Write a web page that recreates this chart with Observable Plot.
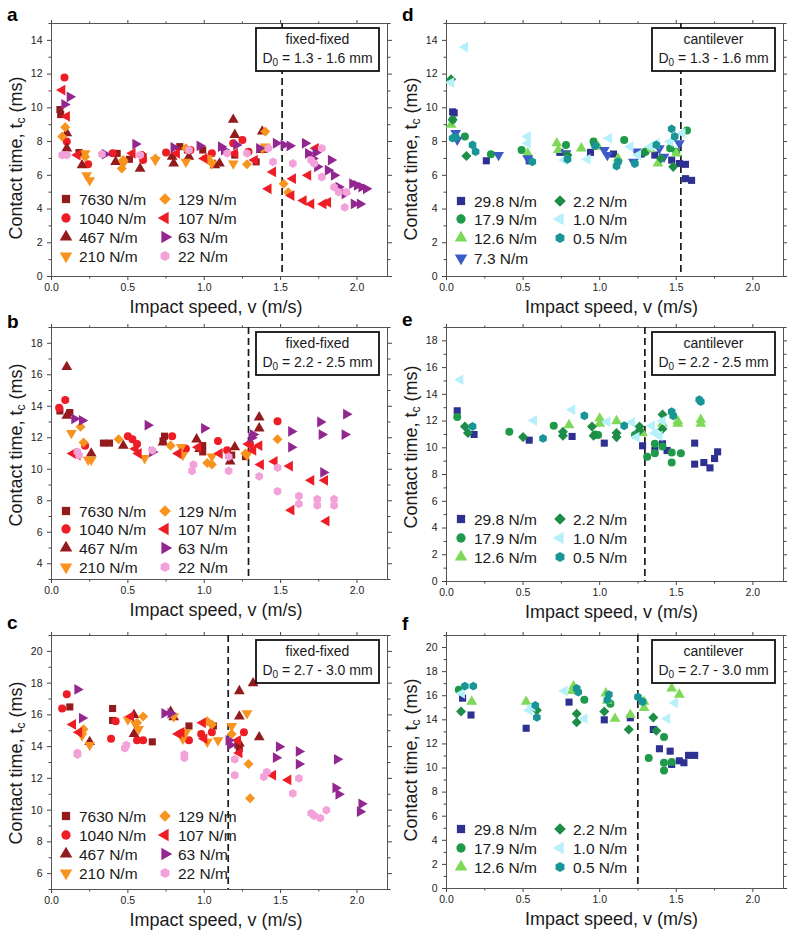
<!DOCTYPE html>
<html><head><meta charset="utf-8">
<script src="https://cdn.jsdelivr.net/npm/d3@7"></script>
<script src="https://cdn.jsdelivr.net/npm/@observablehq/plot@0.6"></script>
<style>
body{margin:0;background:#fff;}
#wrap{position:relative;width:787px;height:937px;overflow:hidden;background:#fff;}
#wrap svg{position:absolute;overflow:visible;}
</style></head><body><div id="wrap"></div>
<script>
// ---------- labels ----------
const ffLabels = ["7630 N/m","1040 N/m","467 N/m","210 N/m","129 N/m","107 N/m","63 N/m","22 N/m"];
const cantLabels = ["29.8 N/m","17.9 N/m","12.6 N/m","7.3 N/m","2.2 N/m","1.0 N/m","0.5 N/m"];
const xTicks = [0, 0.5, 1.0, 1.5, 2.0];
const xMinor = [0.25, 0.75, 1.25, 1.75];
const dashX = [1.51, 1.29, 1.157, 1.53, 1.295, 1.249];

// ---------- panel a: fixed-fixed, D0 = 1.3 - 1.6 mm ----------
const a7630 = [[0.055,9.9],[0.06,9.6],[0.18,7.35],[0.43,7.3],[0.51,6.95],[0.6,7.1],[0.84,7.7],[0.89,7.5],[0.99,7.5],[1.2,7.2],[1.34,6.8]];
const a1040 = [[0.085,11.8],[0.1,8.0],[0.24,6.65],[0.4,7.3],[0.59,7.2],[0.6,6.9],[0.75,7.35],[0.91,7.5],[1.05,7.3],[1.19,7.9],[1.25,8.1],[1.29,7.4]];
const a467 = [[0.1,8.5],[0.1,7.6],[0.2,6.6],[0.42,6.8],[0.58,6.4],[0.79,7.1],[0.8,6.7],[0.9,7.1],[1.07,6.6],[1.1,6.7],[1.19,9.3],[1.2,8.4],[1.38,7.5],[1.38,8.6]];
const a210 = [[0.22,7.3],[0.23,6.0],[0.25,5.7],[0.47,6.7],[0.68,6.9],[0.88,6.8],[1.02,7.0],[1.05,6.7],[1.19,6.7],[1.38,7.6],[1.4,7.7]];
const a129 = [[0.07,8.3],[0.09,8.85],[0.22,7.1],[0.46,6.4],[0.47,6.9],[0.68,7.0],[0.88,7.6],[1.03,6.9],[1.28,6.65],[1.4,8.6],[1.52,5.5],[1.55,5.0]];
const a107 = [[0.07,11.05],[0.1,9.5],[0.17,7.2],[0.53,7.3],[0.82,7.3],[1.0,7.0],[1.2,7.3],[1.33,6.9],[1.42,5.2],[1.45,6.2],[1.57,4.8],[1.58,5.8],[1.65,4.5],[1.68,6.0],[1.7,4.3],[1.73,7.6],[1.78,4.3],[1.81,4.4]];
const a63 = [[0.085,10.2],[0.12,10.65],[0.35,7.25],[0.55,7.85],[0.8,7.65],[0.97,7.75],[1.11,7.7],[1.13,7.5],[1.21,7.8],[1.36,7.6],[1.47,7.9],[1.52,7.8],[1.56,7.75],[1.66,7.9],[1.68,7.3],[1.71,7.0],[1.73,7.35],[1.74,6.5],[1.81,6.3],[1.83,6.9],[1.85,6.0],[1.88,5.3],[1.92,4.9],[1.97,5.5],[1.98,4.3],[2.0,5.4],[2.02,4.3],[2.03,5.3],[2.06,5.2]];
const a22 = [[0.07,7.2],[0.1,7.2],[0.33,7.25],[0.58,7.2],[0.9,7.5],[1.15,7.3],[1.28,7.3],[1.42,7.6],[1.45,6.8],[1.58,6.7],[1.7,6.9],[1.72,6.7],[1.77,7.6],[1.77,5.9],[1.85,5.3],[1.88,5.0],[1.93,5.0],[1.92,4.1]];

// ---------- panel b: fixed-fixed, D0 = 2.2 - 2.5 mm ----------
const b7630 = [[0.055,13.7],[0.12,13.6],[0.34,11.66],[0.38,11.66],[0.73,11.8],[0.74,12.1],[0.99,11.5],[0.99,11.1],[1.18,10.9],[1.27,10.8]];
const b1040 = [[0.05,13.9],[0.09,14.4],[0.22,11.5],[0.5,12.1],[0.53,11.9],[0.56,11.6],[0.79,12.1],[0.88,11.3],[1.09,11.8],[1.15,11.2],[1.3,11.6],[1.48,13.05]];
const b467 = [[0.1,16.5],[0.1,13.4],[0.26,11.0],[0.47,11.5],[0.73,11.7],[0.95,11.9],[0.97,11.3],[1.17,10.5],[1.2,11.4],[1.36,13.3],[1.36,12.6]];
const b210 = [[0.13,12.3],[0.24,10.6],[0.26,10.6],[0.61,10.7],[0.85,11.4],[0.86,10.9],[1.05,10.8],[1.28,10.9]];
const b129 = [[0.19,12.7],[0.21,11.7],[0.44,11.9],[0.78,11.5],[1.02,10.4],[1.05,10.3],[1.27,11.0],[1.48,11.9]];
const b107 = [[0.14,11.0],[0.17,10.9],[0.55,11.3],[0.57,11.0],[0.83,11.0],[0.96,11.4],[1.1,11.0],[1.29,11.6],[1.32,11.2],[1.36,11.5],[1.37,10.3],[1.46,10.5],[1.56,10.2],[1.57,7.4],[1.7,9.3],[1.79,9.3],[1.8,6.7]];
const b63 = [[0.15,13.2],[0.2,13.1],[0.63,12.8],[0.66,11.1],[1.0,12.6],[1.31,12.0],[1.32,12.2],[1.57,12.4],[1.57,11.4],[1.76,13.0],[1.77,12.2],[1.78,9.8],[1.93,13.5],[1.92,12.2]];
const b22 = [[0.17,11.1],[0.18,10.9],[0.66,11.2],[0.92,9.9],[0.93,10.3],[1.16,9.9],[1.16,10.8],[1.36,9.55],[1.48,10.1],[1.48,8.6],[1.62,8.3],[1.62,7.8],[1.74,8.1],[1.74,7.7],[1.85,8.1],[1.85,7.7]];

// ---------- panel c: fixed-fixed, D0 = 2.7 - 3.0 mm ----------
const c7630 = [[0.12,16.5],[0.4,16.4],[0.4,15.65],[0.66,14.3],[0.9,15.3],[1.06,15.3],[1.22,14.1],[1.23,13.9]];
const c1040 = [[0.07,16.4],[0.1,17.3],[0.39,14.5],[0.42,15.6],[0.56,14.4],[0.6,14.4],[0.9,14.4],[0.98,14.8],[1.05,14.9],[1.26,14.9]];
const c467 = [[0.25,14.3],[0.54,14.8],[0.54,16.0],[0.78,16.2],[0.8,15.85],[1.23,17.5],[1.32,18.0],[1.23,15.9],[1.36,14.6],[1.23,14.2]];
const c210 = [[0.2,14.7],[0.25,14.1],[0.5,15.7],[0.55,15.4],[0.57,15.1],[0.8,15.9],[0.86,14.5],[0.88,14.9],[1.02,14.3],[1.09,14.4],[1.18,15.3],[1.28,16.1]];
const c129 = [[0.21,15.1],[0.56,15.5],[0.6,15.9],[1.02,15.6],[1.05,15.4],[1.18,14.8],[1.29,12.9],[1.3,10.75]];
const c107 = [[0.14,15.4],[0.18,14.9],[0.52,15.9],[0.83,14.8],[0.85,14.9],[0.99,15.5],[1.0,14.5],[1.22,14.4],[1.23,13.6],[1.45,12.2],[1.55,11.9]];
const c63 = [[0.17,17.6],[0.2,15.8],[0.74,16.1],[0.78,16.1],[1.16,14.4],[1.17,14.1],[1.47,13.3],[1.49,14.0],[1.62,13.7],[1.62,12.9],[1.86,11.4],[1.87,13.2],[1.88,11.0],[2.02,9.9],[2.03,10.4]];
const c22 = [[0.17,13.6],[0.17,13.5],[0.48,13.9],[0.49,14.1],[0.87,13.5],[0.87,13.3],[1.2,13.2],[1.2,12.2],[1.39,12.1],[1.41,12.4],[1.58,11.05],[1.62,12.0],[1.7,9.8],[1.72,9.65],[1.76,9.5],[1.8,10.0]];

// ---------- panel d: cantilever, D0 = 1.3 - 1.6 mm ----------
const d29_8 = [[0.04,9.76],[0.05,9.7],[0.26,6.86],[0.54,6.86],[0.74,7.36],[0.94,7.36],[1.09,7.26],[1.27,7.26],[1.36,7.2],[1.47,6.9],[1.52,6.7],[1.56,6.65],[1.56,5.8],[1.6,5.7]];
const d17_9 = [[0.04,9.3],[0.12,8.3],[0.29,7.25],[0.49,7.5],[0.78,7.8],[0.96,8.0],[1.16,8.1],[1.3,7.4],[1.46,7.6],[1.5,7.4],[1.57,8.65]];
const d12_6 = [[0.03,9.0],[0.53,7.3],[0.72,7.9],[0.73,7.5],[0.88,7.6],[0.99,7.7],[1.12,7.0],[1.33,7.55],[1.38,6.7],[1.5,7.3]];
const d7_3 = [[0.06,8.5],[0.07,8.1],[0.34,7.2],[0.53,7.0],[0.78,7.3],[1.03,7.5],[1.05,7.2],[1.22,6.8],[1.24,7.4],[1.39,7.6],[1.42,7.1],[1.52,7.9]];
const d2_2 = [[0.03,11.7],[0.04,9.3],[0.13,7.15],[0.79,7.2],[0.97,7.8],[1.29,7.35],[1.4,7.0],[1.48,6.5]];
const d1_0 = [[0.03,11.5],[0.12,13.6],[0.53,8.3],[0.53,7.9],[0.77,6.9],[0.92,6.95],[1.06,8.2],[1.2,7.7],[1.25,7.2],[1.33,7.7],[1.37,7.9],[1.46,8.0],[1.54,8.5]];
const d0_5 = [[0.04,8.2],[0.06,8.25],[0.17,7.8],[0.19,7.4],[0.56,6.8],[0.79,6.95],[0.97,7.75],[1.11,6.55],[1.12,6.8],[1.23,6.7],[1.37,7.8],[1.47,8.75],[1.49,8.3]];

// ---------- panel e: cantilever, D0 = 2.2 - 2.5 mm ----------
const e29_8 = [[0.07,12.77],[0.18,11.0],[0.54,10.57],[0.82,10.85],[1.03,10.35],[1.28,10.15],[1.36,9.8],[1.41,10.3],[1.44,9.8],[1.62,10.35],[1.62,8.78],[1.68,8.9],[1.72,8.5],[1.75,9.2],[1.77,9.7]];
const e17_9 = [[0.07,12.3],[0.41,11.2],[0.7,11.65],[0.97,11.0],[0.99,10.95],[1.23,10.95],[1.31,9.33],[1.36,9.6],[1.36,10.3],[1.41,10.1],[1.47,9.65],[1.47,8.9],[1.53,9.6]];
const e12_6 = [[0.8,11.7],[1.0,12.2],[1.0,11.8],[1.11,12.0],[1.28,11.1],[1.41,11.8],[1.51,12.0],[1.51,11.8],[1.66,12.1],[1.66,11.8]];
const e2_2 = [[0.12,11.6],[0.14,11.1],[0.5,10.8],[0.76,11.2],[0.76,10.9],[0.95,11.6],[0.96,10.9],[1.11,11.1],[1.11,10.8],[1.26,11.6],[1.26,11.3],[1.41,12.5],[1.41,11.4]];
const e1_0 = [[0.09,15.1],[0.57,12.05],[0.82,12.85],[1.05,11.95],[1.21,11.9],[1.24,10.8],[1.34,11.65],[1.36,11.1],[1.39,10.9],[1.41,12.0]];
const e0_5 = [[0.17,11.6],[0.63,10.7],[0.9,12.4],[1.16,11.65],[1.47,12.7],[1.48,12.4],[1.65,13.6],[1.66,13.45]];

// ---------- panel f: cantilever, D0 = 2.7 - 3.0 mm ----------
const f29_8 = [[0.105,15.8],[0.16,14.4],[0.52,13.3],[0.8,15.47],[1.03,14.0],[1.2,14.17],[1.35,13.2],[1.39,11.6],[1.46,11.4],[1.47,10.3],[1.52,10.6],[1.55,10.44],[1.58,11.05],[1.62,11.05]];
const f17_9 = [[0.08,16.5],[0.9,15.66],[1.07,15.33],[1.32,10.83],[1.42,12.57],[1.42,10.44],[1.42,9.8],[1.47,10.5]];
const f12_6 = [[0.165,15.5],[0.52,15.5],[0.82,16.4],[0.83,16.8],[1.04,16.2],[1.05,15.6],[1.1,14.1],[1.2,14.4],[1.29,15.5],[1.29,15.0],[1.47,16.6],[1.52,16.1]];
const f2_2 = [[0.095,14.7],[0.59,14.8],[0.85,14.5],[0.85,13.8],[1.03,14.7],[1.19,13.2],[1.35,14.2],[1.37,13.1]];
const f1_0 = [[0.1,16.2],[0.54,14.8],[0.56,15.1],[0.77,16.4],[0.9,14.1],[1.44,14.1],[1.49,15.4]];
const f0_5 = [[0.12,16.8],[0.175,16.8],[0.58,15.2],[0.59,14.2],[0.85,16.6],[0.86,16.3],[1.05,15.66],[1.06,16.1],[1.25,15.9],[1.28,15.5]];

// ---------- symbols & colours ----------
const S3 = Math.sqrt(3);
const triDown = {draw(c, s){const y = -Math.sqrt(s/(S3*3)); c.moveTo(0,-y*2); c.lineTo(-S3*y,y); c.lineTo(S3*y,y); c.closePath();}};
const triLeft = {draw(c, s){const y = -Math.sqrt(s/(S3*3)); c.moveTo(y*2,0); c.lineTo(-y,-S3*y); c.lineTo(-y,S3*y); c.closePath();}};
const triRight = {draw(c, s){const y = -Math.sqrt(s/(S3*3)); c.moveTo(-y*2,0); c.lineTo(y,-S3*y); c.lineTo(y,S3*y); c.closePath();}};
const hexagon = {draw(c, s){const r = Math.sqrt(s/(1.5*S3)); for(let i=0;i<6;i++){const a=Math.PI/3*i-Math.PI/2; const x=r*Math.cos(a), y=r*Math.sin(a); if(i) c.lineTo(x,y); else c.moveTo(x,y);} c.closePath();}};
const diamond = {draw(c, s){const d = Math.sqrt(s/2); c.moveTo(0,-d); c.lineTo(d,0); c.lineTo(0,d); c.lineTo(-d,0); c.closePath();}};
const square = d3.symbolSquare, circle = d3.symbolCircle, triUp = d3.symbolTriangle;

const ffSymbols = [square, circle, triUp, triDown, diamond, triLeft, triRight, hexagon];
const ffColors = ["#931b1e","#ee1c25","#931b1e","#f7931e","#f7941d","#ee1c25","#92278f","#f2a1d9"];
const cantSymbols = [square, circle, triUp, triDown, diamond, triLeft, hexagon];
const cantColors = ["#2e3192","#1e9a4a","#7dd957","#3d5bc6","#1d8d48","#b5f0fb","#1a9597"];

const FONT = "'Liberation Sans', Arial, Helvetica, sans-serif";

function ff(datas){ return datas.map((d,i)=>({data:d, label:ffLabels[i], sym:ffSymbols[i], color:ffColors[i]})); }
function cant(datas, idx){ return datas.map((d,k)=>{const i = idx[k]; return {data:d, label:cantLabels[i], sym:cantSymbols[i], color:cantColors[i]};}); }

const panels = [
  {letter:"a", left:0, top:0, w:395, frame:[51,387,23,276], yDomain:[0,15], dash:dashX[0], letterY:21, ylabelY:158, kind:"fixed-fixed", range:" = 1.3 - 1.6 mm",
   series: ff([a7630,a1040,a467,a210,a129,a107,a63,a22]), nCol1:4, rows:[199,218,237,256]},
  {letter:"b", left:0, top:305, w:395, frame:[51,387,22,274], yDomain:[3,19], dash:dashX[1], letterY:23, ylabelY:140, kind:"fixed-fixed", range:" = 2.2 - 2.5 mm",
   series: ff([b7630,b1040,b467,b210,b129,b107,b63,b22]), nCol1:4, rows:[206,224,243,262]},
  {letter:"c", left:0, top:607, w:395, frame:[51,387,28,282], yDomain:[5,21], dash:dashX[2], letterY:22, ylabelY:156, kind:"fixed-fixed", range:" = 2.7 - 3.0 mm",
   series: ff([c7630,c1040,c467,c210,c129,c107,c63,c22]), nCol1:4, rows:[209,228,247,266]},
  {letter:"d", left:395, top:0, w:392, frame:[51,388,23,276], yDomain:[0,15], dash:dashX[3], letterY:21, ylabelY:159, kind:"cantilever", range:" = 1.3 - 1.6 mm",
   series: cant([d29_8,d17_9,d12_6,d7_3,d2_2,d1_0,d0_5],[0,1,2,3,4,5,6]), nCol1:4, rows:[201,219,238,258]},
  {letter:"e", left:395, top:305, w:392, frame:[51,388,22,276], yDomain:[0,19], dash:dashX[4], letterY:21, ylabelY:142, kind:"cantilever", range:" = 2.2 - 2.5 mm",
   series: cant([e29_8,e17_9,e12_6,e2_2,e1_0,e0_5],[0,1,2,4,5,6]), nCol1:3, rows:[214,233,252]},
  {letter:"f", left:395, top:607, w:392, frame:[51,388,28,281], yDomain:[0,21], dash:dashX[5], letterY:23, ylabelY:153, kind:"cantilever", range:" = 2.7 - 3.0 mm",
   series: cant([f29_8,f17_9,f12_6,f2_2,f1_0,f0_5],[0,1,2,4,5,6]), nCol1:3, rows:[222,241,260]}
];

function decor(p){
  return () => {
    const [L,R,T,B] = p.frame;
    const g = d3.create("svg:g").attr("font-family", FONT).attr("text-anchor","start");
    g.append("text").attr("x",7).attr("y",p.letterY).attr("text-anchor","start").attr("font-size",19).attr("font-weight","bold").attr("fill","#000").text(p.letter);
    const yl = g.append("text").attr("transform",`translate(22,${p.ylabelY}) rotate(-90)`).attr("text-anchor","middle").attr("font-size",18).attr("fill","#1a1a1a");
    yl.append("tspan").text("Contact time, t");
    yl.append("tspan").attr("font-size",12).attr("dy",3).text("c");
    yl.append("tspan").attr("dy",-3).text(" (ms)");
    g.append("text").attr("x",(L+R)/2-3).attr("y",B+37).attr("text-anchor","middle").attr("font-size",18).attr("fill","#1a1a1a").text("Impact speed, v (m/s)");
    // annotation box
    const bx = R-131, by = T+5;
    g.append("rect").attr("x",bx).attr("y",by).attr("width",123).attr("height",43).attr("fill","#fff").attr("stroke","#111").attr("stroke-width",1.8);
    g.append("text").attr("x",bx+61.5).attr("y",by+16).attr("text-anchor","middle").attr("font-size",14).attr("fill","#1a1a1a").text(p.kind);
    const t2 = g.append("text").attr("x",bx+61.5).attr("y",by+35).attr("text-anchor","middle").attr("font-size",14).attr("fill","#1a1a1a");
    t2.append("tspan").text("D");
    t2.append("tspan").attr("font-size",10).attr("dy",3).text("0");
    t2.append("tspan").attr("dy",-3).text(p.range);
    // legend
    p.series.forEach((s,i)=>{
      const col = i < p.nCol1 ? 0 : 1;
      const row = col ? i - p.nCol1 : i;
      const cy = p.rows[row];
      g.append("path").attr("transform",`translate(${L+(col?114:15)},${cy})`).attr("d", d3.symbol(s.sym, 68)()).attr("fill", s.color);
      g.append("text").attr("x",L+(col?127:28)).attr("y",cy+5.5).attr("text-anchor","start").attr("font-size",15.5).attr("fill","#1a1a1a").text(s.label);
    });
    return g.node();
  };
}

function makePanel(p){
  const [L,R,T,B] = p.frame;
  const H = 330;
  const [y0,y1] = p.yDomain;
  const yMajor = d3.range(Math.ceil(y0/2)*2, y1+0.001, 2);
  const yMinor = d3.range(y0, y1+0.001, 1).filter(v => yMajor.indexOf(v) < 0);
  const ax = {stroke:"#444", label:null};
  const marks = [
    Plot.axisX({...ax, anchor:"bottom", ticks:xTicks, tickSize:4, tickPadding:3, tickFormat:d3.format(".1f"), fill:"#222", fontSize:10.5}),
    Plot.axisX({...ax, anchor:"bottom", ticks:xMinor, tickSize:2.5, fill:"none"}),
    Plot.axisX({...ax, anchor:"top", ticks:xTicks, tickSize:4, fill:"none"}),
    Plot.axisX({...ax, anchor:"top", ticks:xMinor, tickSize:2.5, fill:"none"}),
    Plot.axisY({...ax, anchor:"left", ticks:yMajor, tickSize:4, tickPadding:5, tickFormat:d3.format("d"), fill:"#222", fontSize:10.5}),
    Plot.axisY({...ax, anchor:"left", ticks:yMinor, tickSize:2.5, fill:"none"}),
    Plot.axisY({...ax, anchor:"right", ticks:yMajor, tickSize:4, fill:"none"}),
    Plot.axisY({...ax, anchor:"right", ticks:yMinor, tickSize:2.5, fill:"none"}),
    Plot.frame({stroke:"#555"}),
    Plot.ruleX([p.dash], {stroke:"#1a1a1a", strokeWidth:1.7, strokeDasharray:"7,4"})
  ];
  p.series.forEach(s => marks.push(Plot.dot(s.data, {x:d=>d[0], y:d=>d[1], symbol:s.sym, fill:s.color, r:4})));
  marks.push(decor(p));
  const svg = Plot.plot({
    width:p.w, height:H,
    marginLeft:L, marginRight:p.w-R, marginTop:T, marginBottom:H-B,
    x:{domain:[0,2.2]}, y:{domain:p.yDomain},
    style:{fontFamily:FONT, fontSize:"10.5px", background:"transparent", overflow:"visible"},
    marks
  });
  svg.style.position = "absolute";
  svg.style.left = p.left + "px";
  svg.style.top = p.top + "px";
  return svg;
}

const wrap = document.getElementById("wrap");
panels.forEach(p => wrap.appendChild(makePanel(p)));
</script></body></html>
